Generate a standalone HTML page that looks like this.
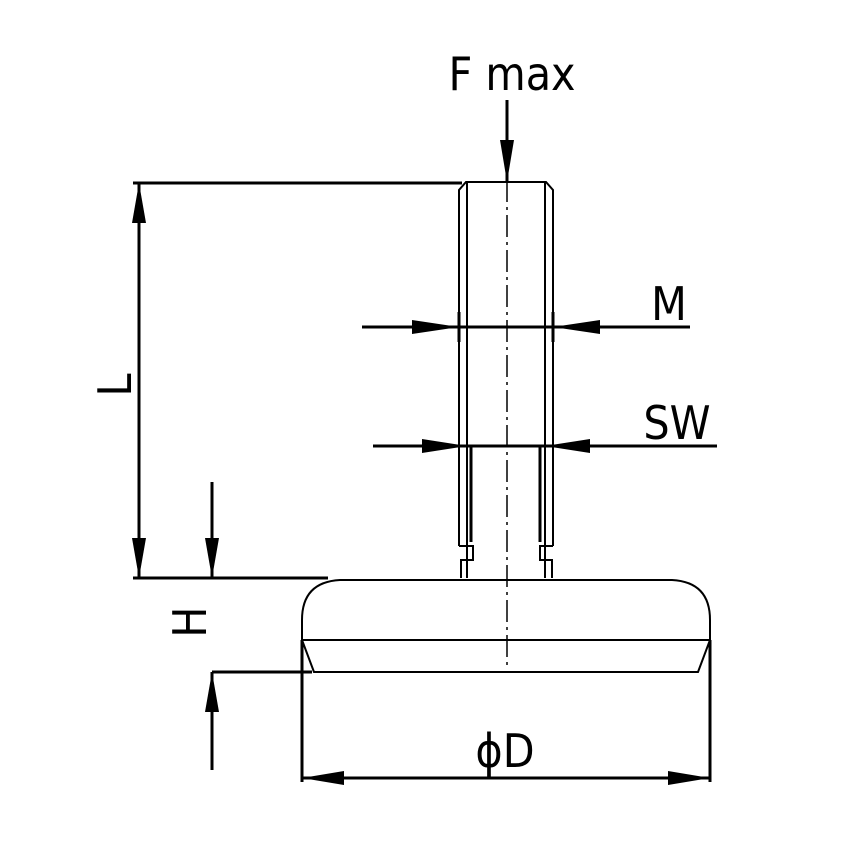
<!DOCTYPE html>
<html><head><meta charset="utf-8"><style>html,body{margin:0;padding:0;background:#fff}svg{display:block}
text{font-family:"DejaVu Sans Condensed","DejaVu Sans","Liberation Sans",sans-serif;font-stretch:condensed;fill:#000;font-size:46px}</style></head>
<body>
<svg width="850" height="850" viewBox="0 0 850 850" xmlns="http://www.w3.org/2000/svg">
<g fill="none" stroke="#000" stroke-width="2">
<!-- stud -->
<path d="M459,546 V190 L466,182 H546 L553,190 V546"/>
<path d="M467,183 V578 M545,183 V578"/>
<path d="M459,546 H473 V560 H461 V578"/>
<path d="M553,546 H540 V560 H552 V578"/>
<!-- base -->
<path d="M302,640 V620 Q302,582 340,580 H672 Q710,582 710,620 V640 Z"/>
<path d="M302,640 L314,672 H698 L710,640"/>
<path d="M507,180 V670" stroke-width="1.5" stroke-dasharray="22,5,3,5"/>
</g>
<g fill="none" stroke="#000" stroke-width="3">
<path d="M507,100 V182"/>
<path d="M133,183 H462"/>
<path d="M139,183 V578"/>
<path d="M133,578 H328"/>
<path d="M212,482 V578 M212,672 V770"/>
<path d="M212,672 H312"/>
<path d="M302,640 V782 M710,640 V782"/>
<path d="M302,778 H710"/>
<path d="M362,327 H690"/>
<path d="M459,312 V342 M553,312 V342"/>
<path d="M373,446 H717"/>
<path d="M471,446 V542 M540,446 V542"/>
</g>
<g fill="#000">
<polygon points="507,182 500,140 514,140"/>
<polygon points="139,183 132,223 146,223"/>
<polygon points="139,578 132,538 146,538"/>
<polygon points="212,578 205,538 219,538"/>
<polygon points="212,672 205,712 219,712"/>
<polygon points="302,778 344,771 344,785"/>
<polygon points="710,778 668,771 668,785"/>
<polygon points="459,327 412,320 412,334"/>
<polygon points="553,327 600,320 600,334"/>
<polygon points="467,446 422,439 422,453"/>
<polygon points="545,446 590,439 590,453"/>
</g>
<text x="512" y="90" text-anchor="middle">F max</text>
<text x="669" y="320" text-anchor="middle">M</text>
<text x="677" y="439" text-anchor="middle">SW</text>
<text x="505" y="767" text-anchor="middle">ϕD</text>
<text transform="translate(131,385) rotate(-90)" text-anchor="middle">L</text>
<text transform="translate(206,622) rotate(-90)" text-anchor="middle">H</text>
</svg>
</body></html>
